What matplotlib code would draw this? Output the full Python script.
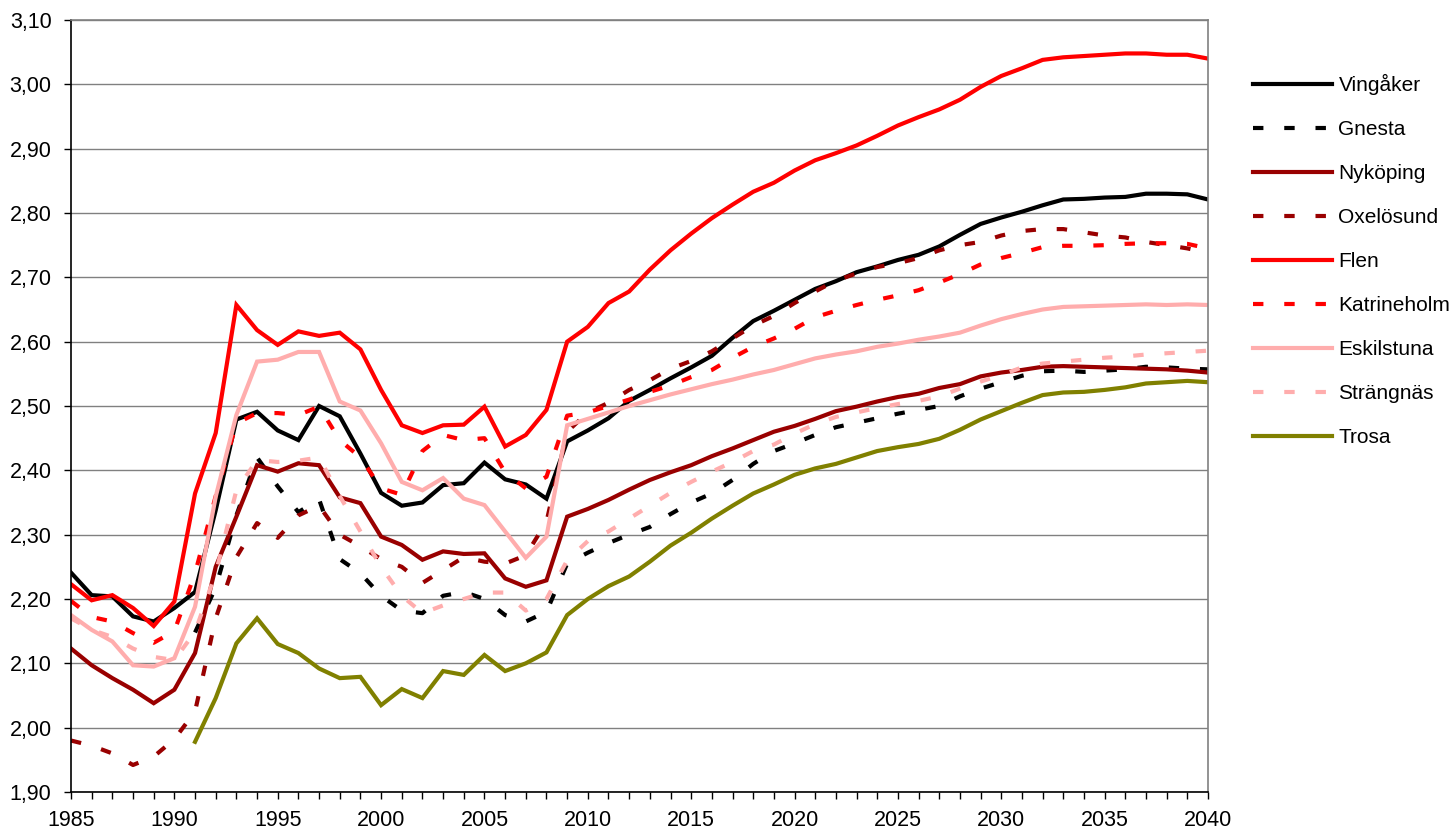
import numpy as np
import matplotlib
matplotlib.use('Agg')
import matplotlib.pyplot as plt
from matplotlib.ticker import MultipleLocator, FuncFormatter

plt.rcParams['font.family'] = ['Liberation Sans', 'DejaVu Sans']

years = list(range(1985, 2041))
nan = np.nan

# values, 1985..2040
vingaker = [2.241, 2.206, 2.204, 2.173, 2.165, 2.186, 2.211, 2.338, 2.479, 2.491,
            2.462, 2.447, 2.500, 2.484, 2.426, 2.365, 2.345, 2.350, 2.377, 2.380,
            2.412, 2.386, 2.378, 2.356, 2.445, 2.462, 2.481, 2.508, 2.525, 2.543,
            2.560, 2.578, 2.606, 2.632, 2.648, 2.665, 2.682, 2.694, 2.708, 2.717,
            2.727, 2.735, 2.748, 2.766, 2.783, 2.793, 2.802, 2.812, 2.821, 2.822,
            2.824, 2.825, 2.830, 2.830, 2.829, 2.821]
gnesta = [nan, nan, nan, nan, nan, nan, 2.148, 2.218, 2.330, 2.420,
          2.375, 2.335, 2.355, 2.262, 2.240, 2.205, 2.182, 2.178, 2.205, 2.211,
          2.200, 2.175, 2.165, 2.180, 2.255, 2.272, 2.287, 2.300, 2.312, 2.332,
          2.350, 2.364, 2.385, 2.410, 2.430, 2.442, 2.455, 2.467, 2.474, 2.481,
          2.488, 2.494, 2.500, 2.515, 2.527, 2.537, 2.547, 2.554, 2.555, 2.553,
          2.555, 2.557, 2.561, 2.560, 2.558, 2.557]
nykoping = [2.123, 2.097, 2.077, 2.059, 2.038, 2.059, 2.116, 2.250, 2.328, 2.408,
            2.398, 2.411, 2.408, 2.358, 2.349, 2.297, 2.284, 2.261, 2.274, 2.270,
            2.271, 2.232, 2.219, 2.229, 2.328, 2.340, 2.354, 2.370, 2.385, 2.397,
            2.408, 2.422, 2.434, 2.447, 2.460, 2.469, 2.480, 2.492, 2.499, 2.507,
            2.514, 2.519, 2.528, 2.534, 2.546, 2.552, 2.556, 2.561, 2.562, 2.561,
            2.560, 2.559, 2.558, 2.557, 2.555, 2.552]
oxelosund = [1.980, 1.972, 1.960, 1.942, 1.955, 1.982, 2.025, 2.170, 2.265, 2.318,
             2.295, 2.330, 2.345, 2.300, 2.282, 2.262, 2.250, 2.225, 2.245, 2.265,
             2.258, 2.255, 2.268, 2.320, 2.460, 2.490, 2.505, 2.525, 2.540, 2.558,
             2.570, 2.585, 2.605, 2.625, 2.640, 2.660, 2.678, 2.695, 2.706, 2.716,
             2.722, 2.730, 2.742, 2.750, 2.755, 2.765, 2.772, 2.775, 2.775, 2.770,
             2.765, 2.762, 2.755, 2.750, 2.745, 2.738]
flen = [2.223, 2.198, 2.206, 2.186, 2.158, 2.196, 2.364, 2.458, 2.657, 2.618,
        2.595, 2.616, 2.609, 2.614, 2.588, 2.525, 2.470, 2.458, 2.470, 2.471,
        2.499, 2.437, 2.455, 2.494, 2.600, 2.623, 2.660, 2.678, 2.712, 2.742,
        2.768, 2.792, 2.813, 2.833, 2.847, 2.866, 2.882, 2.893, 2.905, 2.920,
        2.936, 2.949, 2.961, 2.976, 2.996, 3.013, 3.025, 3.038, 3.042, 3.044,
        3.046, 3.048, 3.048, 3.046, 3.046, 3.040]
katrineholm = [2.197, 2.172, 2.165, 2.147, 2.132, 2.150, 2.240, 2.360, 2.473, 2.489,
               2.489, 2.486, 2.499, 2.447, 2.420, 2.372, 2.362, 2.430, 2.455, 2.447,
               2.450, 2.397, 2.372, 2.390, 2.485, 2.490, 2.500, 2.510, 2.522, 2.532,
               2.545, 2.556, 2.575, 2.592, 2.605, 2.620, 2.638, 2.648, 2.657, 2.665,
               2.672, 2.680, 2.692, 2.705, 2.720, 2.730, 2.738, 2.747, 2.749, 2.749,
               2.750, 2.752, 2.753, 2.753, 2.752, 2.745]
eskilstuna = [2.175, 2.152, 2.134, 2.097, 2.095, 2.108, 2.188, 2.359, 2.486, 2.569,
              2.572, 2.584, 2.584, 2.507, 2.493, 2.442, 2.382, 2.369, 2.388, 2.356,
              2.346, 2.305, 2.264, 2.297, 2.470, 2.480, 2.490, 2.500, 2.509, 2.518,
              2.526, 2.534, 2.541, 2.549, 2.556, 2.565, 2.574, 2.580, 2.585, 2.592,
              2.597, 2.603, 2.608, 2.614, 2.625, 2.635, 2.643, 2.650, 2.654, 2.655,
              2.656, 2.657, 2.658, 2.657, 2.658, 2.657]
strangnas = [2.170, 2.152, 2.141, 2.123, 2.110, 2.105, 2.149, 2.240, 2.369, 2.416,
             2.413, 2.415, 2.420, 2.360, 2.305, 2.250, 2.205, 2.178, 2.190, 2.200,
             2.210, 2.210, 2.182, 2.200, 2.260, 2.290, 2.305, 2.325, 2.345, 2.365,
             2.382, 2.398, 2.413, 2.430, 2.440, 2.457, 2.472, 2.483, 2.490, 2.497,
             2.503, 2.508, 2.515, 2.527, 2.538, 2.548, 2.560, 2.566, 2.569, 2.572,
             2.575, 2.577, 2.580, 2.582, 2.584, 2.586]
trosa = [nan, nan, nan, nan, nan, nan, 1.978, 2.046, 2.131, 2.170,
         2.130, 2.116, 2.092, 2.077, 2.079, 2.035, 2.060, 2.046, 2.088, 2.082,
         2.113, 2.088, 2.100, 2.117, 2.175, 2.200, 2.220, 2.235, 2.258, 2.283,
         2.303, 2.325, 2.345, 2.364, 2.378, 2.393, 2.403, 2.410, 2.420, 2.430,
         2.436, 2.441, 2.449, 2.463, 2.479, 2.492, 2.505, 2.517, 2.521, 2.522,
         2.525, 2.529, 2.535, 2.537, 2.539, 2.537]

series = [
    ('Vingåker', vingaker, '#000000', False),
    ('Gnesta', gnesta, '#000000', True),
    ('Nyköping', nykoping, '#990000', False),
    ('Oxelösund', oxelosund, '#990000', True),
    ('Flen', flen, '#FF0000', False),
    ('Katrineholm', katrineholm, '#FF0000', True),
    ('Eskilstuna', eskilstuna, '#FFADAD', False),
    ('Strängnäs', strangnas, '#FFADAD', True),
    ('Trosa', trosa, '#808000', False),
]

fig = plt.figure(figsize=(14.54, 8.34), dpi=100)
ax = fig.add_axes([71 / 1454, 1 - 792 / 834, (1208 - 71) / 1454, (792 - 20) / 834])

for name, vals, color, dashed in series:
    ls = (0, (2.5, 5.0)) if dashed else '-'
    ax.plot(years, vals, color=color, lw=3.0, ls=ls, label=name,
            solid_joinstyle='miter', dash_capstyle='butt')

ax.set_xlim(1985, 2040)
ax.set_ylim(1.90, 3.10)
ax.xaxis.set_major_locator(MultipleLocator(5))
ax.xaxis.set_minor_locator(MultipleLocator(1))
ax.yaxis.set_major_locator(MultipleLocator(0.10))
ax.yaxis.set_major_formatter(FuncFormatter(lambda v, p: f'{v:.2f}'.replace('.', ',')))
ax.tick_params(axis='both', which='both', direction='out', length=5, width=1,
               labelsize=15.5, color='black')
ax.tick_params(axis='x', pad=8)
ax.tick_params(axis='y', pad=9)
ax.grid(axis='y', color='#808080', lw=1.0)
ax.set_axisbelow(True)
for side in ['left', 'bottom']:
    ax.spines[side].set_color('black')
    ax.spines[side].set_linewidth(1.2)
for side in ['top', 'right']:
    ax.spines[side].set_color('#808080')
    ax.spines[side].set_linewidth(1.2)

fig.legend(loc='upper left', bbox_to_anchor=(1253 / 1454, 1 - 74 / 834),
           frameon=False, fontsize=15, handlelength=3.8, handletextpad=0.3,
           labelspacing=1.2, borderpad=0, borderaxespad=0)

plt.savefig('out.png', dpi=100)
